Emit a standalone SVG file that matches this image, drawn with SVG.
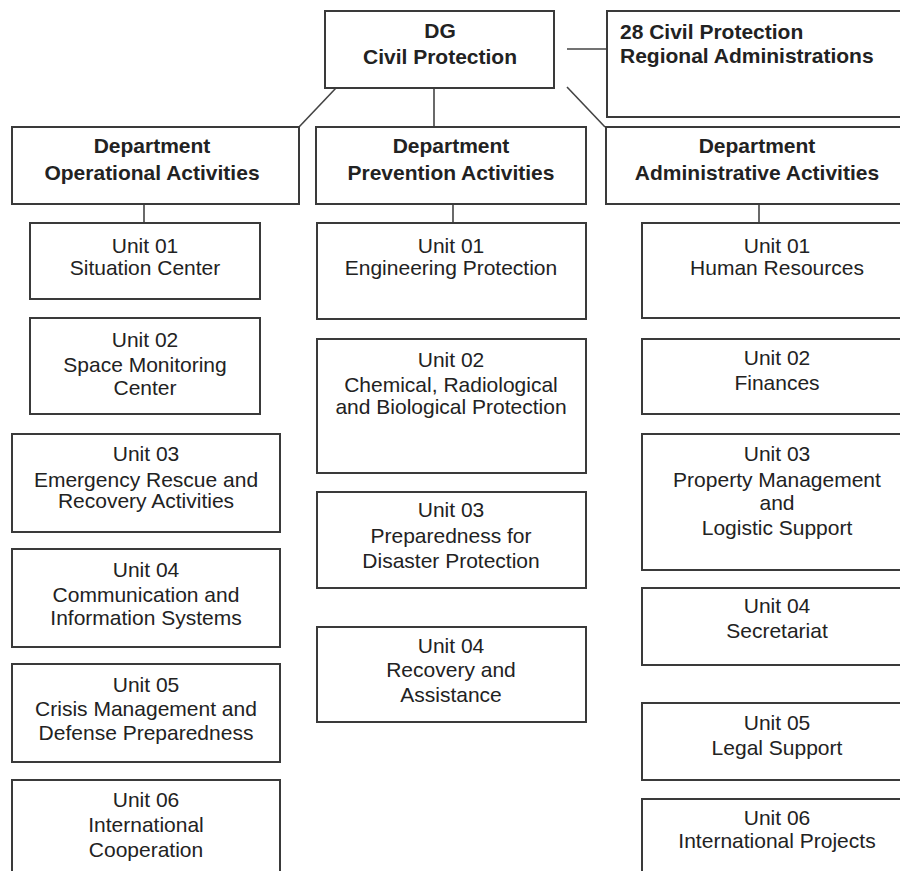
<svg xmlns="http://www.w3.org/2000/svg" width="900" height="871" viewBox="0 0 900 871">
  <style>
    .box { fill: #ffffff; stroke: #3a3a3a; stroke-width: 2; }
    .link { stroke: #444444; stroke-width: 1.6; fill: none; }
    text { font-family: "Liberation Sans", Arial, sans-serif; font-size: 21px; fill: #222222; text-anchor: middle; }
    .hd { font-weight: bold; }
    .left { text-anchor: start; }
  </style>
  <rect width="900" height="871" fill="#ffffff"/>

  <!-- connectors -->
  <g id="connectors">
    <line class="link" x1="336" y1="88" x2="299" y2="127"/>
    <line class="link" x1="434" y1="88" x2="434" y2="127"/>
    <line class="link" x1="567" y1="87" x2="605" y2="127"/>
    <line class="link" x1="567" y1="49" x2="607" y2="49"/>
    <line class="link" x1="144" y1="204" x2="144" y2="223"/>
    <line class="link" x1="453" y1="204" x2="453" y2="223"/>
    <line class="link" x1="759" y1="204" x2="759" y2="223"/>
  </g>

  <!-- top level -->
  <g id="dg">
    <rect class="box" x="325" y="11" width="229" height="77"/>
    <text class="hd" x="440" y="38">DG</text>
    <text class="hd" x="440" y="64">Civil Protection</text>
  </g>
  <g id="regional">
    <rect class="box" x="607" y="11" width="310" height="106"/>
    <text class="hd left" x="620" y="39">28 Civil Protection</text>
    <text class="hd left" x="620" y="63">Regional Administrations</text>
  </g>

  <!-- departments -->
  <g id="dept-operational">
    <rect class="box" x="12" y="127" width="287" height="77"/>
    <text class="hd" x="152" y="153">Department</text>
    <text class="hd" x="152" y="180">Operational Activities</text>
  </g>
  <g id="dept-prevention">
    <rect class="box" x="316" y="127" width="270" height="77"/>
    <text class="hd" x="451" y="153">Department</text>
    <text class="hd" x="451" y="180">Prevention Activities</text>
  </g>
  <g id="dept-administrative">
    <rect class="box" x="606" y="127" width="310" height="77"/>
    <text class="hd" x="757" y="153">Department</text>
    <text class="hd" x="757" y="180">Administrative Activities</text>
  </g>

  <!-- operational units -->
  <g id="op-unit01">
    <rect class="box" x="30" y="223" width="230" height="76"/>
    <text x="145" y="253">Unit 01</text>
    <text x="145" y="275">Situation Center</text>
  </g>
  <g id="op-unit02">
    <rect class="box" x="30" y="318" width="230" height="96"/>
    <text x="145" y="347">Unit 02</text>
    <text x="145" y="372">Space Monitoring</text>
    <text x="145" y="395">Center</text>
  </g>
  <g id="op-unit03">
    <rect class="box" x="12" y="434" width="268" height="98"/>
    <text x="146" y="461">Unit 03</text>
    <text x="146" y="487">Emergency Rescue and</text>
    <text x="146" y="508">Recovery Activities</text>
  </g>
  <g id="op-unit04">
    <rect class="box" x="12" y="549" width="268" height="98"/>
    <text x="146" y="577">Unit 04</text>
    <text x="146" y="602">Communication and</text>
    <text x="146" y="625">Information Systems</text>
  </g>
  <g id="op-unit05">
    <rect class="box" x="12" y="664" width="268" height="98"/>
    <text x="146" y="692">Unit 05</text>
    <text x="146" y="716">Crisis Management and</text>
    <text x="146" y="740">Defense Preparedness</text>
  </g>
  <g id="op-unit06">
    <rect class="box" x="12" y="780" width="268" height="110"/>
    <text x="146" y="807">Unit 06</text>
    <text x="146" y="832">International</text>
    <text x="146" y="857">Cooperation</text>
  </g>

  <!-- prevention units -->
  <g id="pr-unit01">
    <rect class="box" x="317" y="223" width="269" height="96"/>
    <text x="451" y="253">Unit 01</text>
    <text x="451" y="275">Engineering Protection</text>
  </g>
  <g id="pr-unit02">
    <rect class="box" x="317" y="339" width="269" height="134"/>
    <text x="451" y="367">Unit 02</text>
    <text x="451" y="392">Chemical, Radiological</text>
    <text x="451" y="414">and Biological Protection</text>
  </g>
  <g id="pr-unit03">
    <rect class="box" x="317" y="492" width="269" height="96"/>
    <text x="451" y="517">Unit 03</text>
    <text x="451" y="543">Preparedness for</text>
    <text x="451" y="568">Disaster Protection</text>
  </g>
  <g id="pr-unit04">
    <rect class="box" x="317" y="627" width="269" height="95"/>
    <text x="451" y="653">Unit 04</text>
    <text x="451" y="677">Recovery and</text>
    <text x="451" y="702">Assistance</text>
  </g>

  <!-- administrative units -->
  <g id="ad-unit01">
    <rect class="box" x="642" y="223" width="270" height="95"/>
    <text x="777" y="253">Unit 01</text>
    <text x="777" y="275">Human Resources</text>
  </g>
  <g id="ad-unit02">
    <rect class="box" x="642" y="339" width="270" height="75"/>
    <text x="777" y="365">Unit 02</text>
    <text x="777" y="390">Finances</text>
  </g>
  <g id="ad-unit03">
    <rect class="box" x="642" y="434" width="270" height="136"/>
    <text x="777" y="461">Unit 03</text>
    <text x="777" y="487">Property Management</text>
    <text x="777" y="510">and</text>
    <text x="777" y="535">Logistic Support</text>
  </g>
  <g id="ad-unit04">
    <rect class="box" x="642" y="588" width="270" height="77"/>
    <text x="777" y="613">Unit 04</text>
    <text x="777" y="638">Secretariat</text>
  </g>
  <g id="ad-unit05">
    <rect class="box" x="642" y="703" width="270" height="77"/>
    <text x="777" y="730">Unit 05</text>
    <text x="777" y="755">Legal Support</text>
  </g>
  <g id="ad-unit06">
    <rect class="box" x="642" y="799" width="270" height="90"/>
    <text x="777" y="825">Unit 06</text>
    <text x="777" y="848">International Projects</text>
  </g>
</svg>
